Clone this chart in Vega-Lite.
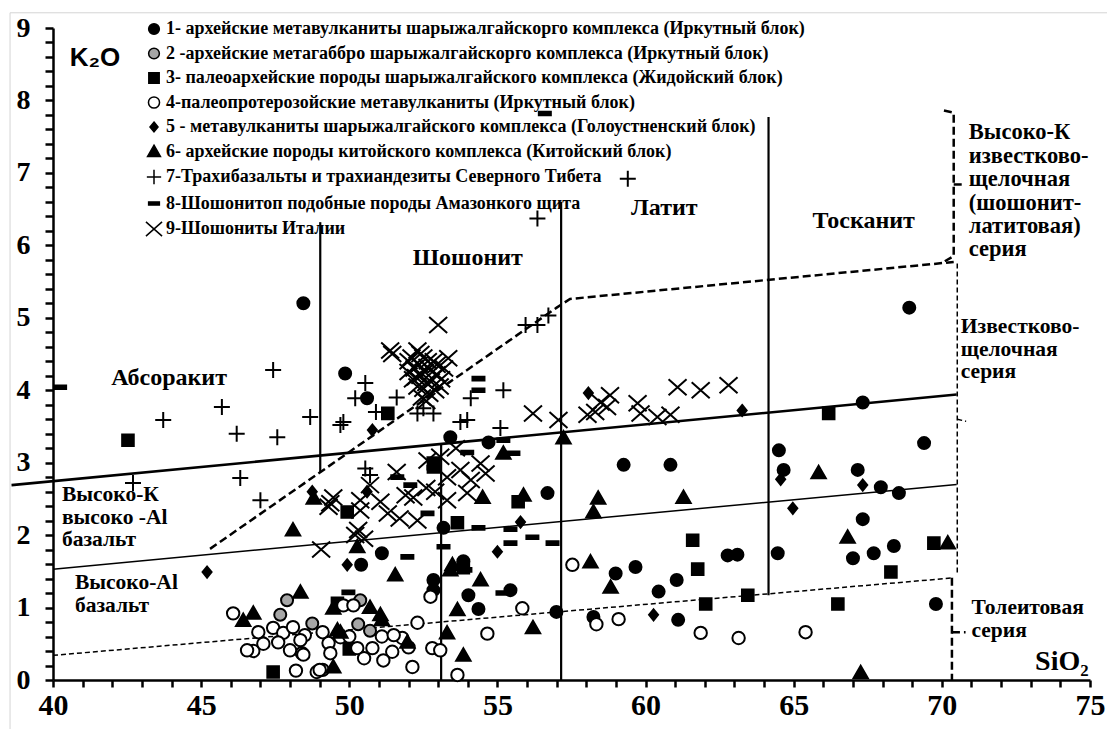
{
  "$schema": "https://vega.github.io/schema/vega-lite/v6.json",
  "width": 1037,
  "height": 652,
  "autosize": "none",
  "padding": {"left": 53, "top": 28, "right": 17, "bottom": 49},
  "background": "white",
  "config": {
    "view": {"stroke": null},
    "font": "Liberation Serif",
    "axis": {"grid": false, "domainColor": "black", "domainWidth": 2.5,
      "labelFont": "Liberation Serif", "labelFontWeight": "bold", "labelColor": "black", "labelOverlap": false, "labelFlush": false},
    "axisX": {"labelFontSize": 30, "labelPadding": 3},
    "axisY": {"labelFontSize": 28, "labelPadding": 15},
    "legend": {"labelFont": "Liberation Serif", "labelFontSize": 18, "labelFontWeight": "bold", "labelColor": "black",
      "labelLimit": 1000, "symbolSize": 320, "symbolStrokeWidth": 1.5, "rowPadding": 5.5, "padding": 0, "labelOffset": 2}
  },
  "datasets": {
    "series": [
      {"g": "1", "label": "1- архейские метавулканиты шарыжалгайскорго комплекса (Иркутный блок)"},
      {"g": "2", "label": "2 -архейские метагаббро шарыжалгайскорго комплекса (Иркутный блок)"},
      {"g": "3", "label": "3- палеоархейские породы шарыжалгайского комплекса (Жидойский блок)"},
      {"g": "4", "label": "4-палеопротерозойские метавулканиты (Иркутный блок)"},
      {"g": "5", "label": "5 - метавулканиты шарыжалгайского комплекса (Голоустненский блок)"},
      {"g": "6", "label": "6- архейские породы китойского комплекса (Китойский блок)"},
      {"g": "7", "label": "7-Трахибазальты  и трахиандезиты Северного Тибета"},
      {"g": "8", "label": "8-Шошонитоп подобные породы Амазонкого щита"},
      {"g": "9", "label": "9-Шошониты Италии"}
    ],
    "points": [
      {"g":"1","x":48.45,"y":5.2},{"g":"1","x":49.86,"y":4.23},{"g":"1","x":50.6,"y":3.89},{"g":"1","x":68.9,"y":5.14},{"g":"1","x":67.33,"y":3.83},{"g":"1","x":64.5,"y":3.17},{"g":"1","x":64.66,"y":2.9},{"g":"1","x":67.16,"y":2.9},{"g":"1","x":69.4,"y":3.27},{"g":"1","x":67.94,"y":2.66},{"g":"1","x":68.55,"y":2.58},{"g":"1","x":67.33,"y":2.22},{"g":"1","x":64.46,"y":1.75},{"g":"1","x":67.0,"y":1.68},{"g":"1","x":67.7,"y":1.75},{"g":"1","x":68.38,"y":1.85},{"g":"1","x":69.8,"y":1.05},{"g":"1","x":62.77,"y":1.72},{"g":"1","x":63.1,"y":1.73},{"g":"1","x":59.66,"y":1.56},{"g":"1","x":58.99,"y":1.47},{"g":"1","x":61.05,"y":1.38},{"g":"1","x":60.44,"y":1.22},{"g":"1","x":61.1,"y":0.83},{"g":"1","x":56.99,"y":0.94},{"g":"1","x":58.24,"y":0.87},{"g":"1","x":56.69,"y":2.58},{"g":"1","x":51.1,"y":1.75},{"g":"1","x":53.18,"y":2.1},{"g":"1","x":53.85,"y":1.64},{"g":"1","x":52.84,"y":1.38},{"g":"1","x":54.02,"y":1.17},{"g":"1","x":54.36,"y":0.98},{"g":"1","x":55.44,"y":1.24},{"g":"1","x":59.26,"y":2.97},{"g":"1","x":60.84,"y":2.97},{"g":"1","x":53.41,"y":3.35},{"g":"1","x":54.7,"y":3.28},{"g":"1","x":50.4,"y":1.59},{"g":"1","x":52.84,"y":1.24},
      {"g":"2","x":47.9,"y":1.1},{"g":"2","x":47.67,"y":0.9},{"g":"2","x":48.75,"y":0.78},{"g":"2","x":50.37,"y":1.1},{"g":"2","x":50.3,"y":0.77},{"g":"2","x":50.7,"y":0.68},
      {"g":"3","x":42.53,"y":3.31},{"g":"3","x":66.18,"y":3.68},{"g":"3","x":69.73,"y":1.89},{"g":"3","x":68.28,"y":1.49},{"g":"3","x":66.49,"y":1.05},{"g":"3","x":63.45,"y":1.17},{"g":"3","x":61.59,"y":1.93},{"g":"3","x":61.76,"y":1.53},{"g":"3","x":62.03,"y":1.05},{"g":"3","x":51.3,"y":3.68},{"g":"3","x":49.93,"y":2.32},{"g":"3","x":52.84,"y":2.94},{"g":"3","x":53.65,"y":2.17},{"g":"3","x":55.7,"y":2.46},{"g":"3","x":49.6,"y":1.06},{"g":"3","x":50.0,"y":0.43},{"g":"3","x":47.43,"y":0.11},{"g":"3","x":53.85,"y":1.55},
      {"g":"4","x":57.53,"y":1.59},{"g":"4","x":55.84,"y":0.99},{"g":"4","x":54.66,"y":0.64},{"g":"4","x":53.65,"y":0.07},{"g":"4","x":52.74,"y":1.15},{"g":"4","x":58.34,"y":0.77},{"g":"4","x":59.09,"y":0.84},{"g":"4","x":61.86,"y":0.65},{"g":"4","x":63.14,"y":0.58},{"g":"4","x":65.4,"y":0.66},{"g":"4","x":52.3,"y":0.79},{"g":"4","x":52.13,"y":0.18},{"g":"4","x":52.8,"y":0.44},{"g":"4","x":53.07,"y":0.41},{"g":"4","x":51.79,"y":0.58},{"g":"4","x":51.45,"y":0.39},{"g":"4","x":51.1,"y":0.6},{"g":"4","x":51.15,"y":0.27},{"g":"4","x":50.78,"y":0.44},{"g":"4","x":49.8,"y":1.03},{"g":"4","x":49.3,"y":0.51},{"g":"4","x":49.1,"y":0.14},{"g":"4","x":48.5,"y":0.62},{"g":"4","x":48.4,"y":0.37},{"g":"4","x":46.08,"y":0.92},{"g":"4","x":46.76,"y":0.4},{"g":"4","x":46.55,"y":0.41},{"g":"4","x":46.93,"y":0.66},{"g":"4","x":47.43,"y":0.72},{"g":"4","x":47.77,"y":0.65},{"g":"4","x":48.1,"y":0.73},{"g":"4","x":48.35,"y":0.55},{"g":"4","x":48.45,"y":0.35},{"g":"4","x":48.2,"y":0.13},{"g":"4","x":48.9,"y":0.11},{"g":"4","x":49.1,"y":0.66},{"g":"4","x":49.7,"y":0.59},{"g":"4","x":50.27,"y":0.44},{"g":"4","x":50.14,"y":1.03},{"g":"4","x":48.0,"y":0.41},{"g":"4","x":47.6,"y":0.52},{"g":"4","x":49.36,"y":0.37},{"g":"4","x":49.0,"y":0.14},{"g":"4","x":50.0,"y":0.6},{"g":"4","x":51.5,"y":0.62},{"g":"4","x":52.0,"y":0.45},{"g":"4","x":50.5,"y":0.3},{"g":"4","x":47.1,"y":0.5},
      {"g":"5","x":45.2,"y":1.49},{"g":"5","x":48.75,"y":2.6},{"g":"5","x":49.93,"y":1.59},{"g":"5","x":50.6,"y":2.6},{"g":"5","x":55.0,"y":1.77},{"g":"5","x":55.78,"y":2.18},{"g":"5","x":50.78,"y":3.45},{"g":"5","x":58.07,"y":3.96},{"g":"5","x":63.26,"y":3.72},{"g":"5","x":64.56,"y":2.77},{"g":"5","x":67.33,"y":2.69},{"g":"5","x":64.97,"y":2.37},{"g":"5","x":60.27,"y":0.9},
      {"g":"6","x":57.23,"y":3.34},{"g":"6","x":55.2,"y":3.13},{"g":"6","x":55.88,"y":2.55},{"g":"6","x":54.5,"y":2.52},{"g":"6","x":58.4,"y":2.51},{"g":"6","x":61.28,"y":2.52},{"g":"6","x":58.24,"y":2.32},{"g":"6","x":58.14,"y":1.63},{"g":"6","x":58.82,"y":1.28},{"g":"6","x":51.55,"y":1.45},{"g":"6","x":54.43,"y":1.38},{"g":"6","x":53.65,"y":0.97},{"g":"6","x":53.3,"y":0.65},{"g":"6","x":53.85,"y":0.34},{"g":"6","x":56.2,"y":0.72},{"g":"6","x":53.48,"y":1.59},{"g":"6","x":51.05,"y":0.9},{"g":"6","x":48.35,"y":1.21},{"g":"6","x":50.7,"y":1.0},{"g":"6","x":51.1,"y":0.83},{"g":"6","x":49.6,"y":0.69},{"g":"6","x":49.46,"y":0.18},{"g":"6","x":51.96,"y":0.52},{"g":"6","x":53.41,"y":1.52},{"g":"6","x":48.1,"y":2.07},{"g":"6","x":46.76,"y":0.92},{"g":"6","x":46.42,"y":0.82},{"g":"6","x":48.8,"y":2.51},{"g":"6","x":49.46,"y":0.99},{"g":"6","x":49.7,"y":0.66},{"g":"6","x":50.27,"y":1.84},{"g":"6","x":66.82,"y":1.97},{"g":"6","x":70.2,"y":1.89},{"g":"6","x":67.26,"y":0.1},{"g":"6","x":65.84,"y":2.86},
      {"g":"7","x":43.72,"y":3.59},{"g":"7","x":45.7,"y":3.77},{"g":"7","x":46.2,"y":3.4},{"g":"7","x":47.43,"y":4.28},{"g":"7","x":47.57,"y":3.35},{"g":"7","x":48.68,"y":3.63},{"g":"7","x":49.7,"y":3.52},{"g":"7","x":49.8,"y":3.56},{"g":"7","x":50.2,"y":3.89},{"g":"7","x":50.54,"y":4.1},{"g":"7","x":46.32,"y":2.79},{"g":"7","x":42.7,"y":2.72},{"g":"7","x":47.0,"y":2.48},{"g":"7","x":59.4,"y":6.92},{"g":"7","x":56.35,"y":6.37},{"g":"7","x":55.95,"y":4.9},{"g":"7","x":56.35,"y":4.9},{"g":"7","x":56.72,"y":5.03},{"g":"7","x":51.6,"y":3.9},{"g":"7","x":52.3,"y":3.68},{"g":"7","x":52.84,"y":3.68},{"g":"7","x":54.1,"y":3.89},{"g":"7","x":55.2,"y":4.0},{"g":"7","x":53.75,"y":3.56},{"g":"7","x":53.98,"y":3.59},{"g":"7","x":55.1,"y":3.48},{"g":"7","x":50.54,"y":2.92},{"g":"7","x":50.7,"y":2.83},{"g":"7","x":52.5,"y":3.75},{"g":"7","x":50.9,"y":3.7},
      {"g":"8","x":40.24,"y":4.04},{"g":"8","x":56.6,"y":7.82},{"g":"8","x":51.96,"y":1.7},{"g":"8","x":52.64,"y":2.3},{"g":"8","x":53.18,"y":1.84},{"g":"8","x":54.36,"y":2.1},{"g":"8","x":55.44,"y":2.08},{"g":"8","x":55.44,"y":1.89},{"g":"8","x":56.18,"y":1.97},{"g":"8","x":56.86,"y":1.89},{"g":"8","x":55.17,"y":1.2},{"g":"8","x":53.92,"y":1.52},{"g":"8","x":49.97,"y":1.21},{"g":"8","x":54.36,"y":4.16},{"g":"8","x":54.36,"y":4.0},{"g":"8","x":53.98,"y":3.14},{"g":"8","x":55.54,"y":3.13},{"g":"8","x":55.2,"y":3.31},{"g":"8","x":51.62,"y":2.8},{"g":"8","x":52.06,"y":2.69},{"g":"8","x":52.84,"y":3.05},{"g":"8","x":52.84,"y":2.93},
      {"g":"9","x":53.0,"y":4.9},{"g":"9","x":51.38,"y":4.55},{"g":"9","x":52.3,"y":4.55},{"g":"9","x":53.34,"y":4.44},{"g":"9","x":52.64,"y":4.32},{"g":"9","x":51.45,"y":4.5},{"g":"9","x":52.0,"y":4.4},{"g":"9","x":52.2,"y":4.3},{"g":"9","x":52.4,"y":4.2},{"g":"9","x":52.6,"y":4.1},{"g":"9","x":52.8,"y":4.25},{"g":"9","x":52.5,"y":4.45},{"g":"9","x":52.9,"y":4.0},{"g":"9","x":52.3,"y":4.05},{"g":"9","x":52.7,"y":3.95},{"g":"9","x":53.1,"y":4.15},{"g":"9","x":52.15,"y":4.15},{"g":"9","x":52.45,"y":3.9},{"g":"9","x":52.85,"y":4.4},{"g":"9","x":53.2,"y":4.3},{"g":"9","x":52.0,"y":4.25},
      {"g":"9","x":52.35,"y":4.35},{"g":"9","x":52.55,"y":4.25},{"g":"9","x":52.75,"y":4.12},{"g":"9","x":52.95,"y":4.22},{"g":"9","x":52.25,"y":4.18},{"g":"9","x":52.5,"y":4.02},{"g":"9","x":52.65,"y":4.4},{"g":"9","x":52.95,"y":4.35},{"g":"9","x":52.4,"y":4.5},{"g":"9","x":52.1,"y":4.45},{"g":"9","x":53.05,"y":4.05},{"g":"9","x":52.6,"y":3.85},
      {"g":"9","x":56.2,"y":3.68},{"g":"9","x":57.06,"y":3.59},{"g":"9","x":58.04,"y":3.66},{"g":"9","x":58.48,"y":3.83},{"g":"9","x":58.8,"y":3.93},{"g":"9","x":58.7,"y":3.77},{"g":"9","x":59.73,"y":3.82},{"g":"9","x":59.83,"y":3.68},{"g":"9","x":60.4,"y":3.63},{"g":"9","x":60.84,"y":3.66},{"g":"9","x":61.08,"y":4.04},{"g":"9","x":61.86,"y":4.0},{"g":"9","x":62.8,"y":4.07},{"g":"9","x":58.3,"y":3.7},
      {"g":"9","x":49.36,"y":2.44},{"g":"9","x":52.64,"y":3.03},{"g":"9","x":51.6,"y":2.87},{"g":"9","x":50.7,"y":2.69},{"g":"9","x":51.05,"y":2.46},{"g":"9","x":51.3,"y":2.3},{"g":"9","x":51.7,"y":2.23},{"g":"9","x":50.37,"y":2.34},{"g":"9","x":52.16,"y":2.52},{"g":"9","x":53.3,"y":2.8},{"g":"9","x":53.75,"y":2.9},{"g":"9","x":54.1,"y":2.76},{"g":"9","x":54.43,"y":2.99},{"g":"9","x":53.3,"y":2.48},{"g":"9","x":53.98,"y":2.58},{"g":"9","x":53.07,"y":3.08},{"g":"9","x":52.3,"y":2.2},{"g":"9","x":49.05,"y":1.8},{"g":"9","x":49.3,"y":2.39},{"g":"9","x":50.37,"y":2.48},{"g":"9","x":50.3,"y":2.07},{"g":"9","x":49.46,"y":2.52},{"g":"9","x":50.5,"y":1.95},{"g":"9","x":50.2,"y":2.0},{"g":"9","x":52.6,"y":2.65},{"g":"9","x":53.6,"y":3.2},{"g":"9","x":52.9,"y":2.6},{"g":"9","x":54.6,"y":2.85},{"g":"9","x":51.9,"y":2.55}
    ],
    "lines": [
      {"id":"A","o":1,"x":38.6,"y":2.69},{"id":"A","o":2,"x":70.5,"y":3.94},
      {"id":"V49","o":1,"x":49.02,"y":6.32},{"id":"V49","o":2,"x":49.02,"y":2.87},
      {"id":"V53","o":1,"x":53.1,"y":3.27},{"id":"V53","o":2,"x":53.1,"y":0},
      {"id":"V57","o":1,"x":57.15,"y":6.6},{"id":"V57","o":2,"x":57.15,"y":0},
      {"id":"V64","o":1,"x":64.15,"y":7.77},{"id":"V64","o":2,"x":64.15,"y":1.17},
      {"id":"B","o":1,"x":40,"y":1.53},{"id":"B","o":2,"x":70.5,"y":2.7},
      {"id":"C","o":1,"x":40,"y":0.34},{"id":"C","o":2,"x":70.4,"y":1.41},
      {"id":"D","o":1,"x":45.3,"y":1.81},{"id":"D","o":2,"x":57.0,"y":5.14},{"id":"D","o":3,"x":57.45,"y":5.26},{"id":"D","o":4,"x":70.4,"y":5.77},
      {"id":"BR1","o":1,"x":70.07,"y":7.86},{"id":"BR1","o":2,"x":70.4,"y":7.83},{"id":"BR1","o":3,"x":70.4,"y":5.85},{"id":"BR1","o":4,"x":70.1,"y":5.78},
      {"id":"BR1n","o":1,"x":70.4,"y":6.84},{"id":"BR1n","o":2,"x":70.72,"y":6.84},
      {"id":"BR2","o":1,"x":70.52,"y":5.75},{"id":"BR2","o":2,"x":70.52,"y":1.45},
      {"id":"BR2n","o":1,"x":70.52,"y":3.6},{"id":"BR2n","o":2,"x":70.82,"y":3.57},
      {"id":"BR3","o":1,"x":70.34,"y":1.41},{"id":"BR3","o":2,"x":70.34,"y":0},
      {"id":"BR3n","o":1,"x":70.34,"y":0.66},{"id":"BR3n","o":2,"x":70.8,"y":0.66},
      {"id":"F","o":1,"x":38.55,"y":-0.7},{"id":"F","o":2,"x":38.55,"y":9.21},{"id":"F","o":3,"x":75.6,"y":9.21}
    ],
    "labels": [
      {"grp":"f","x":43.92,"y":4.17,"t":"Абсоракит"},
      {"grp":"f","x":54.0,"y":5.83,"t":"Шошонит"},
      {"grp":"f","x":60.63,"y":6.52,"t":"Латит"},
      {"grp":"f","x":67.36,"y":6.34,"t":"Тосканит"},
      {"grp":"l","x":40.3,"y":2.7,"t":"Высоко-К\nвысоко -Al\nбазальт"},
      {"grp":"l","x":40.74,"y":1.49,"t":"Высоко-Al\nбазальт"},
      {"grp":"r1","x":70.91,"y":7.71,"t":"Высоко-К\nизвестково-\nщелочная\n(шошонит-\nлатитовая)\nсерия"},
      {"grp":"r","x":70.64,"y":5.02,"t":"Известково-\nщелочная\nсерия"},
      {"grp":"r","x":71.0,"y":1.14,"t":"Толеитовая\nсерия"},
      {"grp":"k","x":41.42,"y":8.58,"t":"K₂O"},
      {"grp":"s","x":74.05,"y":0.25,"t":"SiO₂"}
    ]
  },
  "encoding": {
    "x": {"field": "x", "type": "quantitative", "title": null,
      "scale": {"domain": [40, 75], "nice": false, "zero": false},
      "axis": {"tickCount": 35, "tickMinStep": 1,
        "labelExpr": "datum.value % 5 === 0 ? format(datum.value, 'd') : ''", "labelOverlap": false,
        "ticks": true, "tickSize": 7, "tickWidth": 2.5, "tickColor": "#000000", "tickOpacity": 1}},
    "y": {"field": "y", "type": "quantitative", "title": null,
      "scale": {"domain": [0, 9], "nice": false, "zero": false},
      "axis": {"tickCount": 45,
        "labelExpr": "datum.value % 1 === 0 ? format(datum.value, 'd') : ''", "labelOverlap": false,
        "ticks": true, "tickSize": 8, "tickWidth": 2.5, "tickColor": "#000000", "tickOpacity": 1}}
  },
  "layer": [
    {
      "data": {"name": "lines"},
      "transform": [{"filter": {"field": "id", "equal": "F"}}],
      "mark": {"type": "line", "stroke": "#d4d4d4", "strokeWidth": 1},
      "encoding": {"order": {"field": "o", "type": "quantitative"}}
    },
    {
      "data": {"name": "lines"},
      "transform": [{"filter": {"field": "id", "oneOf": ["A"]}}],
      "mark": {"type": "line", "stroke": "black", "strokeWidth": 2.6},
      "encoding": {"detail": {"field": "id"}, "order": {"field": "o", "type": "quantitative"}}
    },
    {
      "data": {"name": "lines"},
      "transform": [{"filter": {"field": "id", "oneOf": ["V49", "V53", "V57", "V64"]}}],
      "mark": {"type": "line", "stroke": "black", "strokeWidth": 2.2},
      "encoding": {"detail": {"field": "id"}, "order": {"field": "o", "type": "quantitative"}}
    },
    {
      "data": {"name": "lines"},
      "transform": [{"filter": {"field": "id", "oneOf": ["B"]}}],
      "mark": {"type": "line", "stroke": "black", "strokeWidth": 1.5},
      "encoding": {"detail": {"field": "id"}, "order": {"field": "o", "type": "quantitative"}}
    },
    {
      "data": {"name": "lines"},
      "transform": [{"filter": {"field": "id", "oneOf": ["C", "BR2", "BR2n"]}}],
      "mark": {"type": "line", "stroke": "black", "strokeWidth": 1.5, "strokeDash": [5, 3]},
      "encoding": {"detail": {"field": "id"}, "order": {"field": "o", "type": "quantitative"}}
    },
    {
      "data": {"name": "lines"},
      "transform": [{"filter": {"field": "id", "oneOf": ["D", "BR1", "BR1n", "BR3", "BR3n"]}}],
      "mark": {"type": "line", "stroke": "black", "strokeWidth": 2.5, "strokeDash": [8, 4]},
      "encoding": {"detail": {"field": "id"}, "order": {"field": "o", "type": "quantitative"}}
    },
    {
      "data": {"name": "points"},
      "transform": [{"lookup": "g", "from": {"data": {"name": "series"}, "key": "g", "fields": ["label"]}}],
      "mark": {"type": "point", "filled": true, "strokeWidth": 2, "opacity": 1, "size": 400},
      "encoding": {
        "shape": {"field": "label", "type": "nominal",
          "scale": {"range": [
            "M-0.6,0A0.6,0.6,0,1,0,0.6,0A0.6,0.6,0,1,0,-0.6,0Z",
            "M-0.6,0A0.6,0.6,0,1,0,0.6,0A0.6,0.6,0,1,0,-0.6,0Z",
            "M-0.58,-0.58H0.58V0.58H-0.58Z",
            "M-0.62,0A0.62,0.62,0,1,0,0.62,0A0.62,0.62,0,1,0,-0.62,0Z",
            "M0,-0.55L0.45,0L0,0.55L-0.45,0Z",
            "M0,-0.7L0.72,0.55H-0.72Z",
            "M-0.8,0H0.8M0,-0.8V0.8",
            "M-0.6,-0.18H0.6V0.18H-0.6Z",
            "M-0.9,-0.8L0.9,0.8M-0.9,0.8L0.9,-0.8"
          ]},
          "legend": {"orient": "none", "legendX": 91, "legendY": -9, "title": null}},
        "fill": {"field": "label", "type": "nominal",
          "scale": {"range": ["black", "#a6a6a6", "black", "white", "black", "black", "transparent", "black", "transparent"]},
          "legend": {"orient": "none", "legendX": 91, "legendY": -9, "title": null}},
        "stroke": {"field": "label", "type": "nominal",
          "scale": {"range": ["black", "black", "black", "black", "black", "black", "black", "black", "black"]},
          "legend": {"orient": "none", "legendX": 91, "legendY": -9, "title": null}}
      }
    },
    {
      "data": {"name": "labels"},
      "transform": [{"filter": {"field": "grp", "equal": "f"}}],
      "mark": {"type": "text", "font": "Liberation Serif", "fontWeight": "bold", "fontSize": 24, "align": "center", "baseline": "middle", "color": "black"},
      "encoding": {"text": {"field": "t"}}
    },
    {
      "data": {"name": "labels"},
      "transform": [{"filter": {"field": "grp", "oneOf": ["l", "r"]}}],
      "mark": {"type": "text", "font": "Liberation Serif", "fontWeight": "bold", "fontSize": 21.5, "align": "left", "baseline": "top", "lineBreak": "\n", "lineHeight": 22.5, "color": "black"},
      "encoding": {"text": {"field": "t"}}
    },
    {
      "data": {"name": "labels"},
      "transform": [{"filter": {"field": "grp", "equal": "r1"}}],
      "mark": {"type": "text", "font": "Liberation Serif", "fontWeight": "bold", "fontSize": 22.5, "align": "left", "baseline": "top", "lineBreak": "\n", "lineHeight": 23.4, "color": "black"},
      "encoding": {"text": {"field": "t"}}
    },
    {
      "data": {"name": "labels"},
      "transform": [{"filter": {"field": "grp", "equal": "k"}}],
      "mark": {"type": "text", "font": "Liberation Sans", "fontWeight": "bold", "fontSize": 26, "align": "center", "baseline": "middle", "color": "black"},
      "encoding": {"text": {"field": "t"}}
    },
    {
      "data": {"name": "labels"},
      "transform": [{"filter": {"field": "grp", "equal": "s"}}],
      "mark": {"type": "text", "font": "Liberation Serif", "fontWeight": "bold", "fontSize": 28, "align": "center", "baseline": "middle", "color": "black"},
      "encoding": {"text": {"field": "t"}}
    }
  ]
}
